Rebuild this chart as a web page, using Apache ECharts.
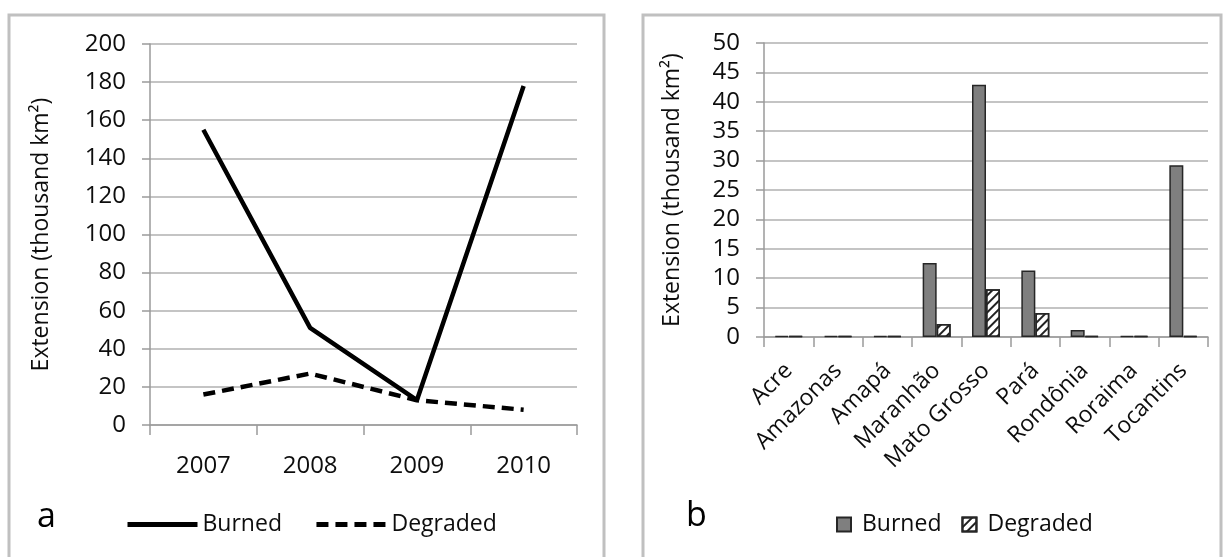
<!DOCTYPE html>
<html>
<head>
<meta charset="utf-8">
<script src="https://cdn.jsdelivr.net/npm/echarts@6/dist/echarts.min.js"></script>
<style>
  html, body { margin: 0; padding: 0; background: #fff; }
  #main { width: 1230px; height: 557px; }
</style>
</head>
<body>
<div id="main"></div>
<script>
// panel a: yearly totals
var years = ['2007', '2008', '2009', '2010'];
var burnedYear = [155, 51, 13, 178];
var degradedYear = [16, 27, 13, 8];
var yearTicks = [0, 200, 20]; // min, max, step

// panel b: by state
var states = ['Acre', 'Amazonas', 'Amapá', 'Maranhão', 'Mato Grosso', 'Pará', 'Rondônia', 'Roraima', 'Tocantins'];
var burnedState = [0.2, 0.2, 0.2, 12.6, 42.9, 11.3, 1.2, 0.2, 29.2];
var degradedState = [0.15, 0.15, 0.15, 2.2, 8.1, 4.1, 0.2, 0.15, 0.2];
var stateTicks = [0, 50, 5];

var font = '"Open Sans", "Liberation Sans", sans-serif';
var txt = '#0d0d0d';
var gridLine = '#c4c4c4';
var axisGray = '#9a9a9a';

var myChart = echarts.init(document.getElementById('main'));

var hatch = {
  symbol: 'rect',
  symbolSize: 1,
  dashArrayX: [1, 0],
  dashArrayY: [2, 4],
  rotation: -Math.PI / 4,
  color: '#222'
};

function valueAxis(gridIndex, t, gap) {
  return {
    type: 'value',
    gridIndex: gridIndex,
    min: t[0],
    max: t[1],
    interval: t[2],
    name: 'Extension (thousand km²)',
    nameLocation: 'middle',
    nameGap: gap,
    nameTextStyle: { fontFamily: font, fontSize: 23, color: txt },
    axisLine: { show: true, lineStyle: { color: axisGray, width: 1.5 } },
    axisTick: { show: true, length: 8, lineStyle: { color: axisGray, width: 1.5 } },
    axisLabel: { margin: 24, fontFamily: font, fontSize: 24, color: txt },
    splitLine: { show: true, lineStyle: { color: gridLine, width: 2 } }
  };
}

myChart.setOption({
  animation: false,
  backgroundColor: '#fff',
  graphic: [
    { type: 'rect', shape: { x: 9, y: 15, width: 595, height: 560 }, style: { fill: 'none', stroke: '#c0c0c0', lineWidth: 3 } },
    { type: 'rect', shape: { x: 643, y: 15, width: 578, height: 560 }, style: { fill: 'none', stroke: '#c0c0c0', lineWidth: 3 } },
    { type: 'text', left: 37, top: 500, style: { text: 'a', fontFamily: font, fontSize: 34, fill: '#000' } },
    { type: 'text', left: 686, top: 499, style: { text: 'b', fontFamily: font, fontSize: 34, fill: '#000' } }
  ],
  legend: [
    {
      data: ['Burned', 'Degraded'],
      left: 120,
      top: 508,
      itemWidth: 70,
      itemHeight: 14,
      itemGap: 32,
      itemStyle: { opacity: 0 },
      lineStyle: { width: 5 },
      textStyle: { fontFamily: font, fontSize: 23, color: txt },
      selectedMode: false
    },
    {
      data: ['Burned ', 'Degraded '],
      left: 831,
      top: 508,
      itemWidth: 14,
      itemHeight: 14,
      itemGap: 20,
      icon: 'rect',
      formatter: function (n) { return n.trim(); },
      textStyle: { fontFamily: font, fontSize: 23, color: txt, padding: [0, 0, 0, 6] },
      selectedMode: false
    }
  ],
  grid: [
    { left: 150, right: 653, top: 44, bottom: 132 },
    { left: 764, right: 22, top: 43, bottom: 220 }
  ],
  xAxis: [
    {
      type: 'category',
      gridIndex: 0,
      data: years,
      axisLine: { lineStyle: { color: axisGray, width: 1.5 } },
      axisTick: { show: true, length: 10, lineStyle: { color: axisGray, width: 1.5 } },
      axisLabel: { margin: 29, fontFamily: font, fontSize: 24, color: txt }
    },
    {
      type: 'category',
      gridIndex: 1,
      data: states,
      axisLine: { lineStyle: { color: axisGray, width: 1.5 } },
      axisTick: { show: true, length: 10, lineStyle: { color: axisGray, width: 1.5 } },
      axisLabel: { interval: 0, rotate: 45, margin: 30, fontFamily: font, fontSize: 23, color: txt }
    }
  ],
  yAxis: [valueAxis(0, yearTicks, 97), valueAxis(1, stateTicks, 80)],
  series: [
    {
      name: 'Burned',
      type: 'line',
      xAxisIndex: 0,
      yAxisIndex: 0,
      data: burnedYear,
      symbol: 'none',
      lineStyle: { color: '#000', width: 4.5 },
      itemStyle: { color: '#000' }
    },
    {
      name: 'Degraded',
      type: 'line',
      xAxisIndex: 0,
      yAxisIndex: 0,
      data: degradedYear,
      symbol: 'none',
      lineStyle: { color: '#000', width: 4.5, type: [12, 7] },
      itemStyle: { color: '#000' }
    },
    {
      name: 'Burned ',
      type: 'bar',
      xAxisIndex: 1,
      yAxisIndex: 1,
      data: burnedState,
      barWidth: 14,
      barGap: '0%',
      itemStyle: { color: '#7f7f7f', borderColor: '#262626', borderWidth: 1.5 }
    },
    {
      name: 'Degraded ',
      type: 'bar',
      xAxisIndex: 1,
      yAxisIndex: 1,
      data: degradedState,
      barWidth: 14,
      barGap: '0%',
      itemStyle: { color: '#fff', borderColor: '#262626', borderWidth: 1.5, decal: hatch }
    }
  ]
});
</script>
</body>
</html>
